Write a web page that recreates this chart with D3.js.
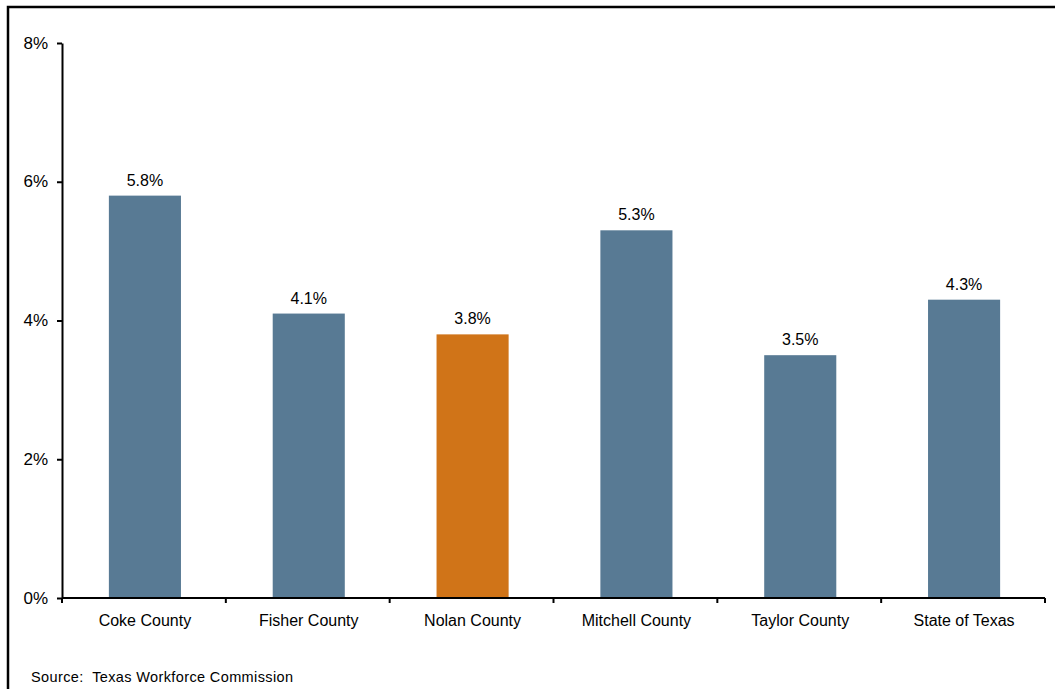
<!DOCTYPE html>
<html>
<head>
<meta charset="utf-8">
<script src="https://cdn.jsdelivr.net/npm/d3@7"></script>
<style>
  body { margin: 0; background: #fff; }
  text { font-family: "Liberation Sans", Arial, sans-serif; fill: #000; }
</style>
</head>
<body>
<div id="chart"></div>
<script>
const categories = ["Coke County", "Fisher County", "Nolan County", "Mitchell County", "Taylor County", "State of Texas"];
const values = [5.8, 4.1, 3.8, 5.3, 3.5, 4.3];
const highlight = ["Nolan County"];
const yTicks = [0, 2, 4, 6, 8];

const W = 1055, H = 689;
const margin = { left: 62, top: 43, right: 10, bottom: 91 };
const width = 1045 - margin.left, height = 598 - margin.top;

const svg = d3.select("#chart").append("svg")
  .attr("width", W).attr("height", H);

// outer frame (left + top only visible)
svg.append("path")
  .attr("d", `M8,${H} V7 H${W}`)
  .attr("fill", "none").attr("stroke", "#000").attr("stroke-width", 2.5);

const g = svg.append("g").attr("transform", `translate(${margin.left},${margin.top})`);

const x = d3.scaleBand().domain(categories).range([0, width]).paddingInner(0.56).paddingOuter(0.28);
const y = d3.scaleLinear().domain([0, 8]).range([height, 0]);

// bars
g.selectAll("rect.bar")
  .data(categories)
  .enter().append("rect")
  .attr("class", "bar")
  .attr("x", (d) => x(d) + 1)
  .attr("y", (d, i) => y(values[i]))
  .attr("width", x.bandwidth())
  .attr("height", (d, i) => height - y(values[i]))
  .attr("fill", (d) => highlight.includes(d) ? "#D07418" : "#587A94");

// value labels
g.selectAll("text.val")
  .data(categories)
  .enter().append("text")
  .attr("class", "val")
  .attr("x", (d) => x(d) + x.bandwidth() / 2 + 1)
  .attr("y", (d, i) => y(values[i]) - 10)
  .attr("text-anchor", "middle")
  .style("font-size", "16px")
  .text((d, i) => values[i].toFixed(1) + "%");

// y axis
const yAxis = g.append("g")
  .call(d3.axisLeft(y).tickValues(yTicks).tickSize(5).tickSizeOuter(0).tickFormat((d) => d + "%"));
yAxis.select(".domain").attr("stroke-width", 2);
yAxis.selectAll(".tick line").attr("stroke-width", 2);
yAxis.selectAll("text").style("font-size", "17px").attr("x", -14).attr("dy", "0.3em");

// x axis with ticks at category boundaries
const xAxis = g.append("g").attr("transform", `translate(0,${height})`);
xAxis.append("line")
  .attr("x1", 0).attr("x2", width)
  .attr("stroke", "#000").attr("stroke-width", 2);
const bounds = d3.range(categories.length + 1).map((i) => i * width / categories.length);
xAxis.selectAll("line.tk")
  .data(bounds)
  .enter().append("line")
  .attr("class", "tk")
  .attr("x1", (d) => d).attr("x2", (d) => d)
  .attr("y1", 0).attr("y2", 5)
  .attr("stroke", "#000").attr("stroke-width", 2);
xAxis.selectAll("text")
  .data(categories)
  .enter().append("text")
  .attr("x", (d) => x(d) + x.bandwidth() / 2 + 1)
  .attr("y", 28)
  .attr("text-anchor", "middle")
  .style("font-size", "16px")
  .text((d) => d);

svg.append("text")
  .attr("x", 31).attr("y", 682)
  .style("font-size", "14.5px")
  .style("white-space", "pre")
  .attr("textLength", 262)
  .text("Source:  Texas Workforce Commission");
</script>
</body>
</html>
